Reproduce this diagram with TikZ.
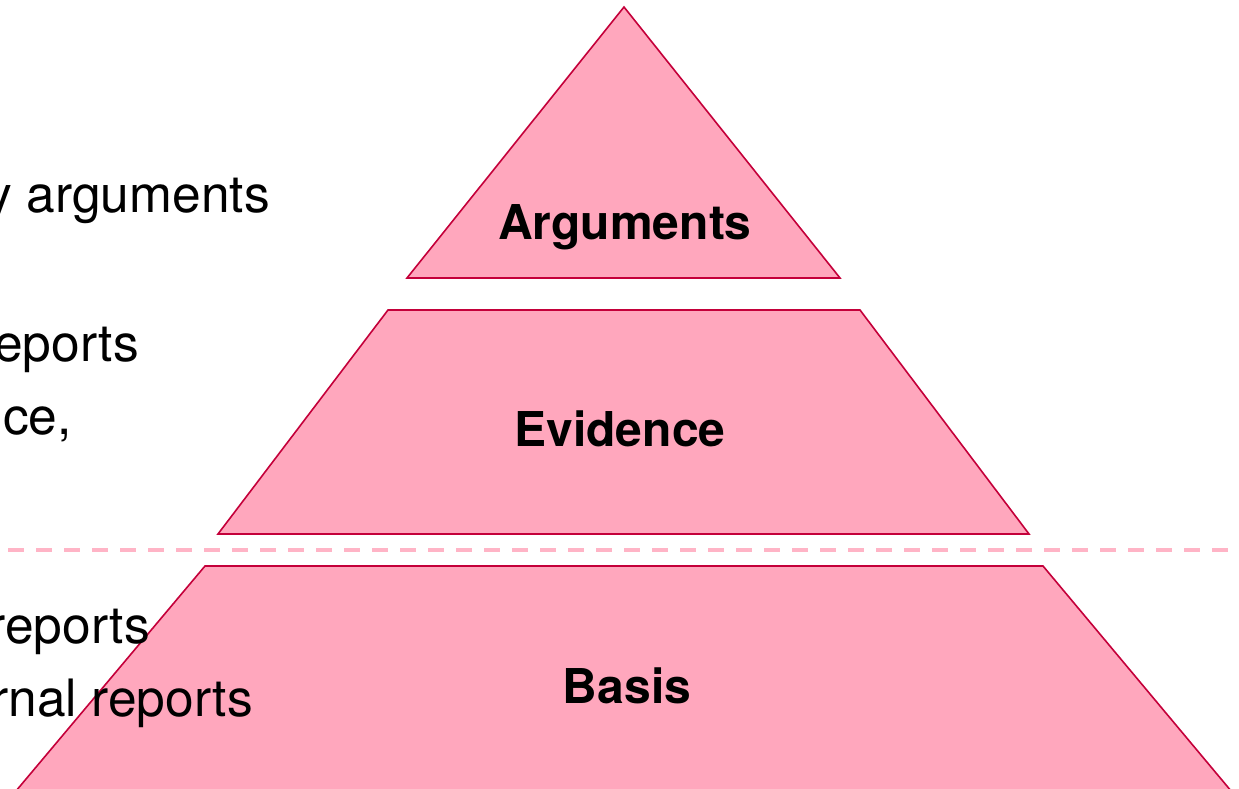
\documentclass[tikz,border=0pt]{standalone}
\usepackage{fontspec}
\setmainfont{TeX Gyre Heros}
\usepackage{xcolor}
\definecolor{pyrfill}{RGB}{255,167,189}
\definecolor{pyredge}{RGB}{196,0,58}
\definecolor{pyrdash}{RGB}{255,180,198}
\tikzstyle{layer} = [fill=pyrfill,draw=pyredge,line width=1.6pt]
\tikzstyle{lbl} = [anchor=base,inner sep=0pt,font=\fontsize{48}{56}\selectfont\bfseries]
\tikzstyle{side} = [anchor=base east,inner sep=0pt,font=\fontsize{51.5}{60}\selectfont]

\begin{document}
\begin{tikzpicture}[x=1pt,y=-1pt]
        \useasboundingbox (0,0) rectangle (1239,789);
        % pyramid
        \draw[layer] (624,7) -- (840,278) -- (407,278) -- cycle;
        \draw[layer] (388,310) -- (860,310) -- (1029,534) -- (218,534) -- cycle;
        \draw[layer] (205,566) -- (1043,566) -- (1247,810) -- (0,810) -- cycle;
        \coordinate (sepL) at (8,550);
        \coordinate (sepR) at (1239,550);
        \draw[pyrdash,line width=4pt,dash pattern=on 16pt off 12pt] (sepL) -- (sepR);
        \node[lbl] (args) at (625,239) {Arguments};
        \node[lbl] (evid) at (620,446) {Evidence};
        \node[lbl] (basis) at (627,703) {Basis};
        % text on the left
        \node[side] (t1) at (270,212) {y arguments};
        \node[side] (t2) at (139,361) {eports};
        \node[side] (t3) at (72,434) {nce,};
        \node[side] (t4) at (150,643) {reports};
        \node[side] (t5) at (253,716) {rnal reports};
      \end{tikzpicture}
\end{document}
